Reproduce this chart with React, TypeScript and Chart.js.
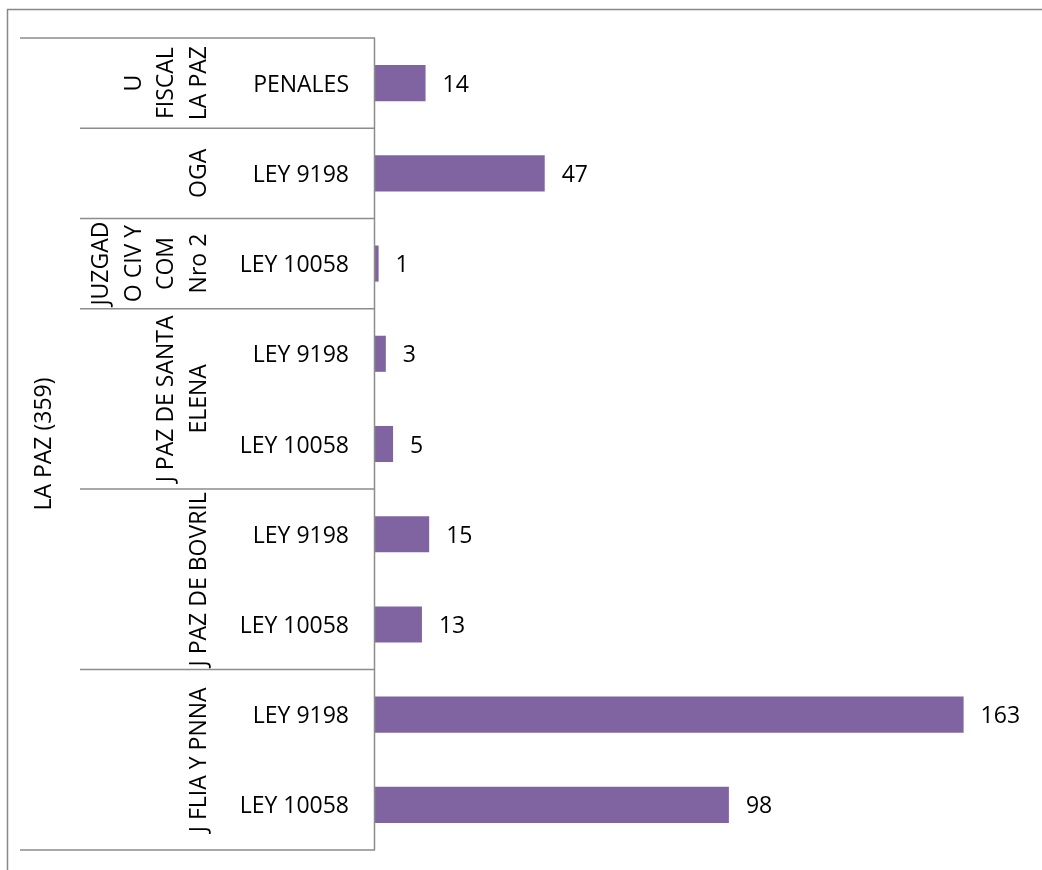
import React, { useEffect, useRef } from "react";
import { Chart, registerables } from "chart.js";

Chart.register(...registerables);

// Inner level (one per bar)
const categories = [
  "PENALES",
  "LEY 9198",
  "LEY 10058",
  "LEY 9198",
  "LEY 10058",
  "LEY 9198",
  "LEY 10058",
  "LEY 9198",
  "LEY 10058",
];
const values = [14, 47, 1, 3, 5, 15, 13, 163, 98];

// Middle level groups: label lines and [first, last] category index
const groupLabels = [
  ["U", "FISCAL", "LA PAZ"],
  ["OGA"],
  ["JUZGAD", "O CIV Y", "COM", "Nro 2"],
  ["J PAZ DE SANTA", "ELENA"],
  ["J PAZ DE BOVRIL"],
  ["J FLIA Y PNNA"],
];
const groupSpans = [
  [0, 0],
  [1, 1],
  [2, 2],
  [3, 4],
  [5, 6],
  [7, 8],
];
// Outer level
const outerLabel = "LA PAZ (359)";

const FONT = '"Open Sans", "Noto Sans", sans-serif';
const LINE = "#8c8c8c";

export default function App() {
  const ref = useRef<HTMLCanvasElement | null>(null);

  useEffect(() => {
    if (!ref.current) return;

    const decor = {
      id: "decor",
      afterDraw(chart: any) {
        const ctx = chart.ctx as CanvasRenderingContext2D;
        const y = chart.scales.y;
        const area = chart.chartArea;
        const band = y.getPixelForValue(1) - y.getPixelForValue(0);
        const edge = (k: number) => y.getPixelForValue(k) - band / 2;
        ctx.save();

        // chart border (top and left)
        ctx.strokeStyle = "#878787";
        ctx.lineWidth = 1.5;
        ctx.beginPath();
        ctx.moveTo(7.5, 870);
        ctx.lineTo(7.5, 9.5);
        ctx.lineTo(1042, 9.5);
        ctx.stroke();

        // axis line
        ctx.strokeStyle = LINE;
        ctx.lineWidth = 1.5;
        ctx.beginPath();
        ctx.moveTo(area.left - 0.5, edge(0));
        ctx.lineTo(area.left - 0.5, edge(categories.length));
        ctx.stroke();

        // outer separators
        ctx.beginPath();
        ctx.moveTo(20, edge(0));
        ctx.lineTo(area.left, edge(0));
        ctx.moveTo(20, edge(categories.length));
        ctx.lineTo(area.left, edge(categories.length));
        // group separators
        for (let g = 1; g < groupSpans.length; g++) {
          const yy = edge(groupSpans[g][0]);
          ctx.moveTo(80, yy);
          ctx.lineTo(area.left, yy);
        }
        ctx.stroke();

        ctx.fillStyle = "#000000";
        ctx.font = `23px ${FONT}`;
        const dy = 2;

        // inner labels
        ctx.textAlign = "right";
        ctx.textBaseline = "middle";
        categories.forEach((c, i) => {
          ctx.fillText(c, 349, y.getPixelForValue(i) + dy);
        });

        // group labels (rotated)
        ctx.textAlign = "center";
        groupLabels.forEach((lines, g) => {
          const [a, b] = groupSpans[g];
          const cy = (y.getPixelForValue(a) + y.getPixelForValue(b)) / 2;
          const n = lines.length;
          lines.forEach((ln, i) => {
            const x = 197 - (n - 1 - i) * 32.5;
            ctx.save();
            ctx.translate(x, cy);
            ctx.rotate(-Math.PI / 2);
            ctx.fillText(ln, 0, dy);
            ctx.restore();
          });
        });

        // outer label
        const oy = (edge(0) + edge(categories.length)) / 2;
        ctx.save();
        ctx.translate(42, oy);
        ctx.rotate(-Math.PI / 2);
        ctx.fillText(outerLabel, 0, dy);
        ctx.restore();

        // value labels
        const meta = chart.getDatasetMeta(0);
        ctx.textAlign = "left";
        meta.data.forEach((el: any, i: number) => {
          ctx.fillText(String(values[i]), el.x + 17, el.y + dy);
        });

        ctx.restore();
      },
    };

    const chart = new Chart(ref.current, {
      type: "bar",
      data: {
        labels: categories,
        datasets: [
          {
            data: values,
            backgroundColor: "#8064A2",
            borderWidth: 0,
            barPercentage: 0.4,
            categoryPercentage: 1,
          },
        ],
      },
      options: {
        indexAxis: "y",
        responsive: false,
        animation: false,
        layout: { padding: { left: 375, top: 38, bottom: 20, right: 17 } },
        plugins: {
          legend: { display: false },
          tooltip: { enabled: false },
          title: { display: false },
        },
        scales: {
          x: { display: false, min: 0, max: 180 },
          y: { display: false },
        },
      },
      plugins: [decor],
    });

    return () => chart.destroy();
  }, []);

  return (
    <div
      style={{
        position: "fixed",
        left: 0,
        top: 0,
        width: 1042,
        height: 870,
        overflow: "hidden",
        background: "#ffffff",
      }}
    >
      <canvas ref={ref} width={1042} height={870} style={{ display: "block" }} />
    </div>
  );
}
